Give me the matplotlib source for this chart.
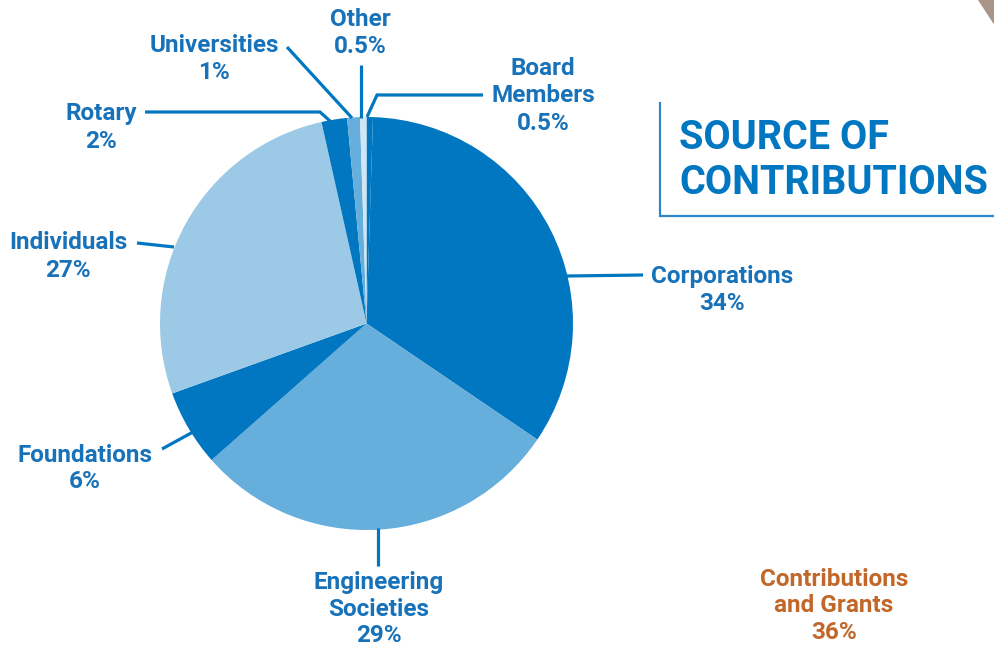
import matplotlib
matplotlib.use("Agg")
import matplotlib.pyplot as plt
from matplotlib.patches import Polygon

# ---- data ----
categories = ["Board Members", "Corporations", "Engineering Societies", "Foundations",
              "Individuals", "Rotary", "Universities", "Other"]
values = [0.5, 34, 29, 6, 27, 2, 1, 0.5]
label_lines = {
    "Board Members": ["Board", "Members", "0.5%"],
    "Corporations": ["Corporations", "34%"],
    "Engineering Societies": ["Engineering", "Societies", "29%"],
    "Foundations": ["Foundations", "6%"],
    "Individuals": ["Individuals", "27%"],
    "Rotary": ["Rotary", "2%"],
    "Universities": ["Universities", "1%"],
    "Other": ["Other", "0.5%"],
}
title_lines = ["SOURCE OF", "CONTRIBUTIONS"]
side_lines = ["Contributions", "and Grants", "36%"]

DARK = "#0077c0"
MED = "#66aedb"
LIGHT = "#9ccae6"
PALE = "#cfe6f5"
colors = [DARK, DARK, MED, DARK, LIGHT, DARK, MED, PALE]
TEXT = "#1872b9"
ORANGE = "#c2672a"

W, H = 995, 651
fig = plt.figure(figsize=(W / 100, H / 100), dpi=100)
ax = fig.add_axes([0, 0, 1, 1])

def Y(y):
    return H - y

FONT = "Roboto"

cx, cy, r = 366.5, 323.5, 206.5
ax.pie(values, colors=colors, startangle=90, counterclock=False,
       center=(cx, Y(cy)), radius=r, frame=True,
       wedgeprops=dict(linewidth=0))
ax.set_xlim(0, W)
ax.set_ylim(0, H)
ax.set_aspect("equal")
ax.axis("off")

# leader lines (pixel coords)
leaders = {
    "Board Members": [(367, 117), (377, 95), (483, 95)],
    "Corporations": [(567, 276), (643, 275)],
    "Engineering Societies": [(378, 528), (378, 566)],
    "Foundations": [(193, 432), (162, 449)],
    "Individuals": [(174, 247), (137, 243)],
    "Rotary": [(330, 121), (320, 112), (145, 112)],
    "Universities": [(352, 118), (287, 47)],
    "Other": [(361, 118), (361, 65)],
}
for k, pts in leaders.items():
    xs = [p[0] for p in pts]
    ys = [Y(p[1]) for p in pts]
    ax.plot(xs, ys, color=DARK, lw=2.3, solid_capstyle="butt", solid_joinstyle="miter")

label_pos = {
    "Board Members": (543, [66, 93, 121]),
    "Corporations": (722, [274, 301]),
    "Engineering Societies": (379, [581, 608, 634]),
    "Foundations": (85, [453, 480]),
    "Individuals": (68, [240, 268]),
    "Rotary": (101, [111, 139]),
    "Universities": (214, [43, 70]),
    "Other": (360, [17, 44]),
}
DY = 2
for k, (x, ys) in label_pos.items():
    for line, y in zip(label_lines[k], ys):
        ax.text(x, Y(y + DY), line, ha="center", va="center", color=TEXT,
                fontsize=17.5, fontweight="bold", family=FONT)

for line, y in zip(side_lines, [577, 604, 631]):
    ax.text(834, Y(y + DY), line, ha="center", va="center", color=ORANGE,
            fontsize=17.5, fontweight="bold", family=FONT)

for line, y in zip(title_lines, [137, 182]):
    ax.text(679, Y(y + 1), line, ha="left", va="center", color=DARK,
            fontsize=28.5, fontweight="bold", family=FONT)

# bracket
ax.plot([660, 660, 995], [Y(103), Y(216), Y(216)], color="#2f86c8", lw=1.6,
        solid_joinstyle="miter")

# corner triangle
ax.add_patch(Polygon([(978, Y(0)), (995, Y(0)), (995, Y(26))], closed=True,
                     facecolor="#a89488", edgecolor="none"))

fig.savefig("out.png", dpi=100)
